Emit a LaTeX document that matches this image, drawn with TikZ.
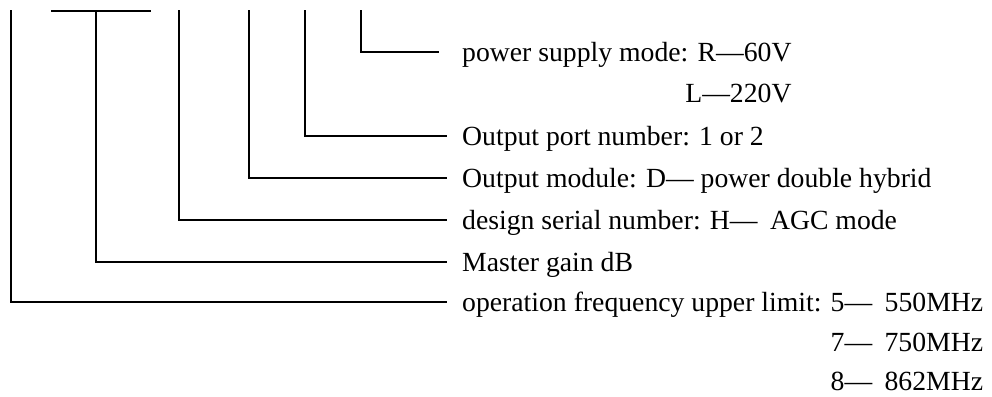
\documentclass[tikz,border=0pt]{standalone}
\usepackage{fontspec}
\setmainfont{Liberation Serif}
\begin{document}
\begin{tikzpicture}[x=1pt,y=-1pt,
  lbl/.style={anchor=base west,inner sep=0pt,font=\fontsize{27.7}{33}\selectfont},
  lblr/.style={anchor=base east,inner sep=0pt,font=\fontsize{27.7}{33}\selectfont},
  lead/.style={line width=1.5pt,line cap=rect}]
\useasboundingbox (0,0) rectangle (992,396);
% text nodes
\node[lbl] (t1) at (462,61) {power supply mode: R—60V};
\node[lblr] (t1b) at (t1.base east |- 0,102) {L—220V};
\node[lbl] (t2) at (462,145) {Output port number: 1 or 2};
\node[lbl] (t3) at (462,187) {Output module: D— power double hybrid};
\node[lbl] (t4) at (462,229) {design serial number: H—\hspace{0.45em}AGC mode};
\node[lbl] (t5) at (462,271) {Master gain dB};
\node[lbl] (t6) at (462,311) {operation frequency upper limit: 5—\hspace{0.45em}550MHz};
\node[lblr] (t6b) at (t6.base east |- 0,351) {7—\hspace{0.45em}750MHz};
\node[lblr] (t6c) at (t6.base east |- 0,390) {8—\hspace{0.45em}862MHz};
% tops of the leads
\coordinate (a1) at (361,11);
\coordinate (a2) at (305,11);
\coordinate (a3) at (249,11);
\coordinate (a4) at (179,11);
\coordinate (a5) at (96,11);
\coordinate (a6) at (11,11);
\coordinate (b1) at (52,11);
\coordinate (b2) at (150,11);
% ends of the leads
\coordinate (e1) at (438,52);
\coordinate (e2) at (446,136);
\coordinate (e3) at (446,178);
\coordinate (e4) at (446,220);
\coordinate (e5) at (446,262);
\coordinate (e6) at (446,302);
\draw[lead] (a1) |- (e1);
\draw[lead] (a2) |- (e2);
\draw[lead] (a3) |- (e3);
\draw[lead] (a4) |- (e4);
\draw[lead] (a5) |- (e5);
\draw[lead] (a6) |- (e6);
\draw[lead] (b1) -- (b2);
\end{tikzpicture}
\end{document}
